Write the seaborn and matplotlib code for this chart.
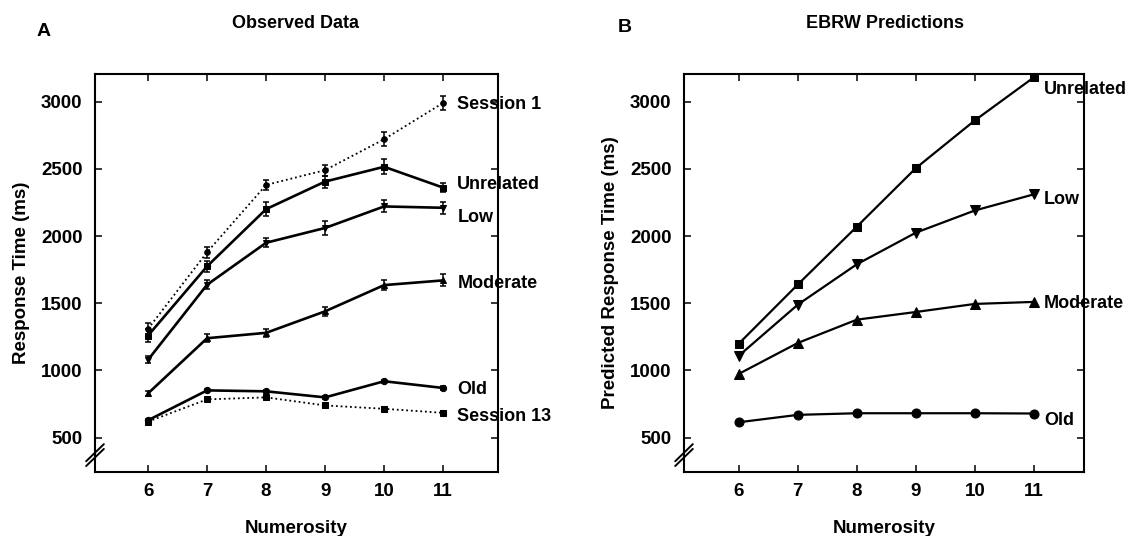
import matplotlib
matplotlib.use("Agg")
import matplotlib.pyplot as plt
import seaborn as sns
import pandas as pd
import numpy as np

# ---------------- data ----------------
numerosity = [6, 7, 8, 9, 10, 11]

obs_names = ["Session 1", "Unrelated", "Low", "Moderate", "Old", "Session 13"]
obs_session1 = [1310, 1880, 2380, 2490, 2720, 2990]
obs_unrelated = [1260, 1775, 2200, 2405, 2515, 2360]
obs_low = [1080, 1638, 1950, 2060, 2220, 2210]
obs_moderate = [830, 1240, 1280, 1440, 1635, 1670]
obs_old = [630, 852, 845, 800, 920, 870]
obs_session13 = [620, 785, 800, 740, 715, 685]

err_session1 = [45, 40, 40, 40, 50, 50]
err_unrelated = [50, 40, 50, 45, 55, 35]
err_low = [25, 35, 35, 50, 45, 45]
err_moderate = [20, 30, 30, 35, 40, 45]
err_old = [12, 12, 12, 12, 12, 12]
err_session13 = [10, 10, 10, 10, 10, 10]

pred_names = ["Unrelated", "Low", "Moderate", "Old"]
pred_unrelated = [1200, 1640, 2070, 2505, 2860, 3180]
pred_low = [1110, 1490, 1790, 2025, 2190, 2310]
pred_moderate = [975, 1205, 1378, 1435, 1495, 1510]
pred_old = [615, 670, 682, 682, 682, 680]

obs_label_y = [2975, 2380, 2135, 1645, 855, 655]
pred_label_y = [3090, 2270, 1500, 630]

y_ticks = [500, 1000, 1500, 2000, 2500, 3000]

# ---------------- style ----------------
sns.set_theme(style="ticks")
plt.rcParams["font.family"] = ["Liberation Sans", "DejaVu Sans"]
plt.rcParams["axes.linewidth"] = 1.5
for key in ["text.color", "axes.labelcolor", "xtick.color", "ytick.color", "axes.edgecolor"]:
    plt.rcParams[key] = "black"

fig = plt.figure(figsize=(11.36, 5.36), dpi=100)
axA = fig.add_axes([95 / 1136, 64 / 536, 403 / 1136, 398 / 536])
axB = fig.add_axes([684 / 1136, 64 / 536, 400 / 1136, 398 / 536])

obs_series = [obs_session1, obs_unrelated, obs_low, obs_moderate, obs_old, obs_session13]
obs_errs = [err_session1, err_unrelated, err_low, err_moderate, err_old, err_session13]
obs_markers = ["o", "s", "v", "^", "o", "s"]
obs_dotted = [True, False, False, False, False, True]

for name, vals, errs, mk, dotted in zip(obs_names, obs_series, obs_errs, obs_markers, obs_dotted):
    df = pd.DataFrame({"Numerosity": numerosity, "RT": vals})
    ls = (0, (1, 1.6)) if dotted else "-"
    lw = 1.3 if dotted else 1.9
    sns.lineplot(data=df, x="Numerosity", y="RT", ax=axA, color="black",
                 linestyle=ls, linewidth=lw, marker=mk, markersize=4 if dotted else 4.5,
                 markeredgecolor="black", markerfacecolor="black")
    axA.errorbar(numerosity, vals, yerr=errs, fmt="none", ecolor="black",
                 elinewidth=1.1, capsize=2.2, capthick=1.1)

pred_series = [pred_unrelated, pred_low, pred_moderate, pred_old]
pred_markers = ["s", "v", "^", "o"]
pred_sizes = [6, 6.5, 6.5, 6.5]
for name, vals, mk, ms in zip(pred_names, pred_series, pred_markers, pred_sizes):
    df = pd.DataFrame({"Numerosity": numerosity, "RT": vals})
    sns.lineplot(data=df, x="Numerosity", y="RT", ax=axB, color="black",
                 linewidth=1.6, marker=mk, markersize=ms,
                 markeredgecolor="black", markerfacecolor="black")

# series labels
for name, yv in zip(obs_names, obs_label_y):
    axA.text(11.24, yv, name, fontsize=13, fontweight="bold", va="center", ha="left",
             clip_on=False)
for name, yv in zip(pred_names, pred_label_y):
    axB.text(11.17, yv, name, fontsize=13, fontweight="bold", va="center", ha="left",
             clip_on=False)

for ax, xl, ylab in [(axA, (5.1, 11.93), "Response Time (ms)"),
                     (axB, (5.07, 11.85), "Predicted Response Time (ms)")]:
    ax.set_xlim(*xl)
    ax.set_ylim(245, 3205)
    ax.set_xticks(numerosity)
    ax.set_xticklabels([str(v) for v in numerosity])
    ax.set_yticks(y_ticks)
    ax.tick_params(direction="in", length=5, width=1.1, top=True, right=True,
                   labelsize=13.5, pad=9, colors="black")
    ax.tick_params(axis="x", pad=8)
    for lab in ax.get_xticklabels() + ax.get_yticklabels():
        lab.set_fontweight("bold")
    ax.set_xlabel("Numerosity", fontsize=13.5, fontweight="bold", labelpad=14)
    ax.set_ylabel(ylab, fontsize=13.5, fontweight="bold", labelpad=8)
    for sp in ax.spines.values():
        sp.set_visible(True)
        sp.set_linewidth(1.5)
        sp.set_color("black")
    # axis break marks
    for off in (0.0, 0.012):
        ax.plot([-0.022, 0.022], [0.015 + off, 0.058 + off], transform=ax.transAxes,
                color="black", lw=1.4, clip_on=False)
    ax.grid(False)

fig.text(296 / 1136, 1 - 23 / 536, "Observed Data", fontsize=13, fontweight="bold",
         ha="center", va="center")
fig.text(885 / 1136, 1 - 23 / 536, "EBRW Predictions", fontsize=13, fontweight="bold",
         ha="center", va="center")
fig.text(37 / 1136, 1 - 31 / 536, "A", fontsize=14, fontweight="bold", ha="left", va="center")
fig.text(618 / 1136, 1 - 28 / 536, "B", fontsize=14, fontweight="bold", ha="left", va="center")

fig.savefig("out.png", dpi=100, facecolor="white")
